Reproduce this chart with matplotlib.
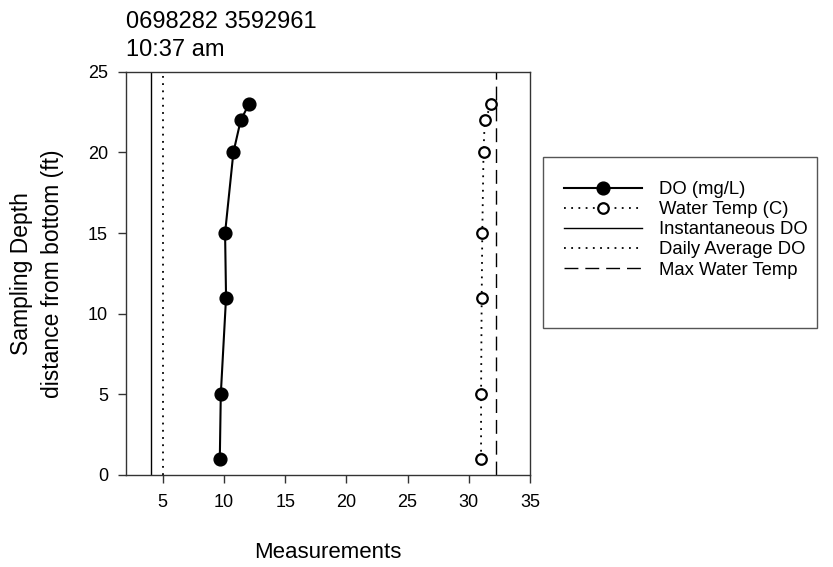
import matplotlib.pyplot as plt
from matplotlib.patches import Rectangle

plt.rcParams["font.family"] = ["Liberation Sans", "DejaVu Sans"]

# 観測データ
depth = [1, 5, 11, 15, 20, 22, 23]
do_mgl = [9.66, 9.74, 10.17, 10.09, 10.77, 11.37, 12.05]
water_temp = [31.0, 31.0, 31.05, 31.1, 31.2, 31.3, 31.85]

# 基準値
instantaneous_do = 4
daily_average_do = 5
max_water_temp = 32.2

title_text = "0698282 3592961\n10:37 am"
x_ticks = [5, 10, 15, 20, 25, 30, 35]
y_ticks = [0, 5, 10, 15, 20, 25]

fig = plt.figure(figsize=(8.33, 5.67), dpi=100)
ax = fig.add_axes([0.1513, 0.1623, 0.485, 0.7112])

ax.plot(do_mgl, depth, color="black", linewidth=1.5, marker="o",
        markersize=9.2, markerfacecolor="black", label="DO (mg/L)", zorder=3)
ax.plot(water_temp, depth, color="black", linewidth=1.3, linestyle=(0, (1, 3)),
        marker="o", markersize=7.6, markerfacecolor="white",
        markeredgewidth=1.6, label="Water Temp (C)", zorder=3)
ax.axvline(instantaneous_do, color="black", linewidth=1.0, label="Instantaneous DO")
ax.axvline(daily_average_do, color="black", linewidth=1.3,
           linestyle=(0, (1, 3)), label="Daily Average DO")
ax.axvline(max_water_temp, color="black", linewidth=1.0,
           linestyle=(0, (10, 5)), label="Max Water Temp")

ax.set_xlim(2, 35)
ax.set_ylim(0, 25)
ax.set_xticks(x_ticks)
ax.set_yticks(y_ticks)
ax.tick_params(direction="out", length=6, width=1, labelsize=13,
               colors="#333333", labelcolor="black")
ax.tick_params(axis="x", pad=8)
ax.tick_params(axis="y", pad=7)
for sp in ax.spines.values():
    sp.set_linewidth(1.0)
    sp.set_color("#333333")

ax.set_xlabel("Measurements", fontsize=16, labelpad=22)
ax.set_ylabel("Sampling Depth\ndistance from bottom (ft)", fontsize=16.5,
              labelpad=17, linespacing=1.45)
ax.set_title(title_text, loc="left", fontsize=17, pad=11, linespacing=1.35)

# 凡例（外枠は別に描画）
fig.patches.append(Rectangle((0.652, 0.422), 0.329, 0.301, transform=fig.transFigure,
                             fill=False, edgecolor="#555555", linewidth=1.0))
fig.legend(loc="upper left", bbox_to_anchor=(0.666, 0.697), frameon=False,
           fontsize=13.3, handlelength=4.2, handletextpad=0.95, labelspacing=0.17,
           borderpad=0.0)

plt.savefig("out.png", dpi=100)
plt.close(fig)
